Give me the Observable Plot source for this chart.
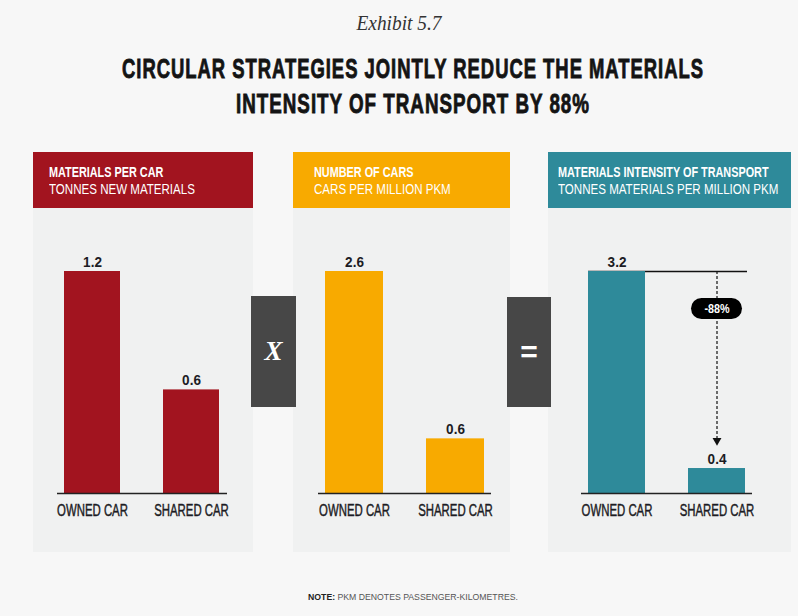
<!DOCTYPE html>
<html>
<head>
<meta charset="utf-8">
<script src="https://cdn.jsdelivr.net/npm/d3@7"></script>
<script src="https://cdn.jsdelivr.net/npm/@observablehq/plot@0.6"></script>
<style>
  html, body { margin: 0; padding: 0; background: #f7f7f7; }
  #root { position: relative; width: 798px; height: 616px; overflow: hidden; background: #f7f7f7;
          font-family: "Liberation Sans", Arial, sans-serif; }
  .exhibit { position: absolute; left: 0; top: 10px; width: 798px; text-align: center; transform: scaleX(0.88);
             font-family: "Liberation Serif", "DejaVu Serif", serif; font-style: italic; font-size: 22px; color: #333; }
  .tline { position: absolute; left: -286px; width: 1398px; text-align: center; font-weight: bold; white-space: nowrap;
           font-size: 28px; line-height: 34px; color: #141414; letter-spacing: 1.5px; -webkit-text-stroke: 0.9px #141414; }
  .panel { position: absolute; top: 152px; height: 400px; background: #f0f1f1; }
  .head { height: 56px; box-sizing: border-box; padding-top: 12px; color: #fff; font-size: 14px; line-height: 17px; }
  .hline { white-space: nowrap; transform-origin: 0 50%; }
  .op { position: absolute; background: #474747; color: #fff; display: flex; align-items: center; justify-content: center; }
  .note { position: absolute; left: 0; top: 592px; width: 826px; text-align: center; font-family: "Liberation Sans", Arial, sans-serif;
          font-size: 8.7px; color: #555; }
  .note b { color: #222; }
</style>
</head>
<body>
<div id="root"></div>
<script>
// ---------- data ----------
const exhibitLabel = "Exhibit 5.7";
const titleLines = ["CIRCULAR STRATEGIES JOINTLY REDUCE THE MATERIALS", "INTENSITY OF TRANSPORT BY 88%"];
const categories = ["OWNED CAR", "SHARED CAR"];
const panelTitles = ["MATERIALS PER CAR", "NUMBER OF CARS", "MATERIALS INTENSITY OF TRANSPORT"];
const panelUnits = ["TONNES NEW MATERIALS", "CARS PER MILLION PKM", "TONNES MATERIALS PER MILLION PKM"];
const materialsPerCar = [1.2, 0.56];
const carsPerMillionPkm = [2.6, 0.64];
const materialsIntensity = [3.2, 0.36];
const operators = ["X", "="];
const reductionLabel = "-88%";
const noteLabel = "NOTE:";
const noteText = "PKM DENOTES PASSENGER-KILOMETRES.";

// ---------- layout / style ----------
const FONT = '"Liberation Sans", Arial, sans-serif';
const seriesList = [materialsPerCar, carsPerMillionPkm, materialsIntensity];
const layout = [
  {left: 33, width: 220, color: "#a2141f", pad: 16, mL: 24, mR: 26},
  {left: 293, width: 217, color: "#f8aa00", pad: 21, mL: 25, mR: 19},
  {left: 548, width: 243, color: "#2e8a9a", pad: 10, mL: 33, mR: 39}
];
const titleTops = [52, 87];
const titleWidths = [582, 354];
const opBoxes = [
  {left: 251, top: 296, width: 45, height: 111, font: 'italic bold 27px "Liberation Serif", serif'},
  {left: 507, top: 297, width: 44, height: 110, font: 'bold 30px "Liberation Sans", sans-serif'}
];
const headSqueeze = [0.775, 0.825];

const root = document.getElementById("root");

const ex = document.createElement("div");
ex.className = "exhibit"; ex.textContent = exhibitLabel; root.appendChild(ex);

titleLines.forEach((t, i) => {
  const line = document.createElement("div");
  line.className = "tline";
  line.style.top = titleTops[i] + "px";
  const span = document.createElement("span");
  span.textContent = t;
  line.appendChild(span);
  root.appendChild(line);
  const w = span.getBoundingClientRect().width;
  line.style.transform = `scaleX(${titleWidths[i] / w})`;
});

function squeezeSvgText(svg) {
  svg.querySelectorAll("text").forEach(t => {
    const len = t.getComputedTextLength();
    const isCat = /[A-Z]{2}/.test(t.textContent);
    const f = isCat ? 0.69 : 0.9;
    t.setAttribute("textLength", (len * f).toFixed(1));
    t.setAttribute("lengthAdjust", "spacingAndGlyphs");
    if (isCat) { t.setAttribute("stroke", "#1c1c24"); t.setAttribute("stroke-width", "0.45"); }
  });
}

seriesList.forEach((values, i) => {
  const L = layout[i];
  const panel = document.createElement("div");
  panel.className = "panel";
  panel.style.left = L.left + "px";
  panel.style.width = L.width + "px";
  const head = document.createElement("div");
  head.className = "head";
  head.style.background = L.color;
  head.style.paddingLeft = L.pad + "px";
  [panelTitles[i], panelUnits[i]].forEach((txt, k) => {
    const hl = document.createElement("div");
    hl.className = "hline";
    hl.style.fontWeight = k === 0 ? "bold" : "normal";
    hl.style.transform = `scaleX(${headSqueeze[k]})`;
    hl.textContent = txt;
    head.appendChild(hl);
  });
  panel.appendChild(head);
  root.appendChild(panel);

  const rows = categories.map((c, k) => ({cat: c, value: values[k]}));
  const marks = [];
  if (i === 2) {
    marks.push(Plot.ruleY([values[0]], {x1: () => categories[0], x2: () => categories[1], insetRight: -2, stroke: "#111", strokeWidth: 1.3}));
  }
  marks.push(Plot.barY(rows, {x: "cat", y: "value", fill: L.color}));
  marks.push(Plot.ruleY([0], {stroke: "#222", strokeWidth: 1.5}));
  marks.push(Plot.text(rows, {x: "cat", y: "value", text: d => d.value.toFixed(1), dy: -5, lineAnchor: "bottom",
    fontSize: 15, fontWeight: "bold", fill: "#1c1c24", fontFamily: FONT}));
  marks.push(Plot.axisX({tickSize: 0, tickPadding: 11, fontSize: 16.5, fill: "#1c1c24", fontFamily: FONT, label: null}));
  if (i === 2) {
    marks.push(Plot.ruleX([values[1]], {x: () => categories[1], y1: () => values[0], y2: d => d, insetBottom: 30,
      stroke: "#111", strokeWidth: 1.2, strokeDasharray: "3,2"}));
    marks.push(Plot.dot([values[1]], {x: () => categories[1], y: d => d, dy: -28, symbol: "triangle", rotate: 180, r: 3.3,
      fill: "#111", stroke: "none"}));
    marks.push(Plot.barY([reductionLabel], {x: () => categories[1], y1: () => values[0], y2: () => values[0],
      insetTop: 27, insetBottom: -48, insetLeft: 3, insetRight: 3, rx: 10.5, fill: "#000"}));
    marks.push(Plot.text([reductionLabel], {x: () => categories[1], y: () => values[0], text: d => d, dy: 37.5,
      fill: "#fff", fontSize: 12, fontWeight: "bold", fontFamily: FONT}));
  }

  const chart = Plot.plot({
    width: L.width,
    height: 344,
    marginLeft: L.mL,
    marginRight: L.mR,
    marginTop: 63,
    marginBottom: 59,
    style: {background: "transparent", overflow: "visible"},
    x: {domain: categories, paddingInner: 0.43, paddingOuter: 0.07, axis: null},
    y: {domain: [0, values[0]], axis: null},
    marks
  });
  chart.style.display = "block";
  panel.appendChild(chart);
  squeezeSvgText(chart);
});

operators.forEach((op, i) => {
  const B = opBoxes[i];
  const d = document.createElement("div");
  d.className = "op";
  Object.assign(d.style, {left: B.left + "px", top: B.top + "px", width: B.width + "px", height: B.height + "px", font: B.font});
  d.textContent = op;
  root.appendChild(d);
});

const note = document.createElement("div");
note.className = "note";
note.innerHTML = "<b></b> <span></span>";
note.querySelector("b").textContent = noteLabel;
note.querySelector("span").textContent = noteText;
root.appendChild(note);
</script>
</body>
</html>
